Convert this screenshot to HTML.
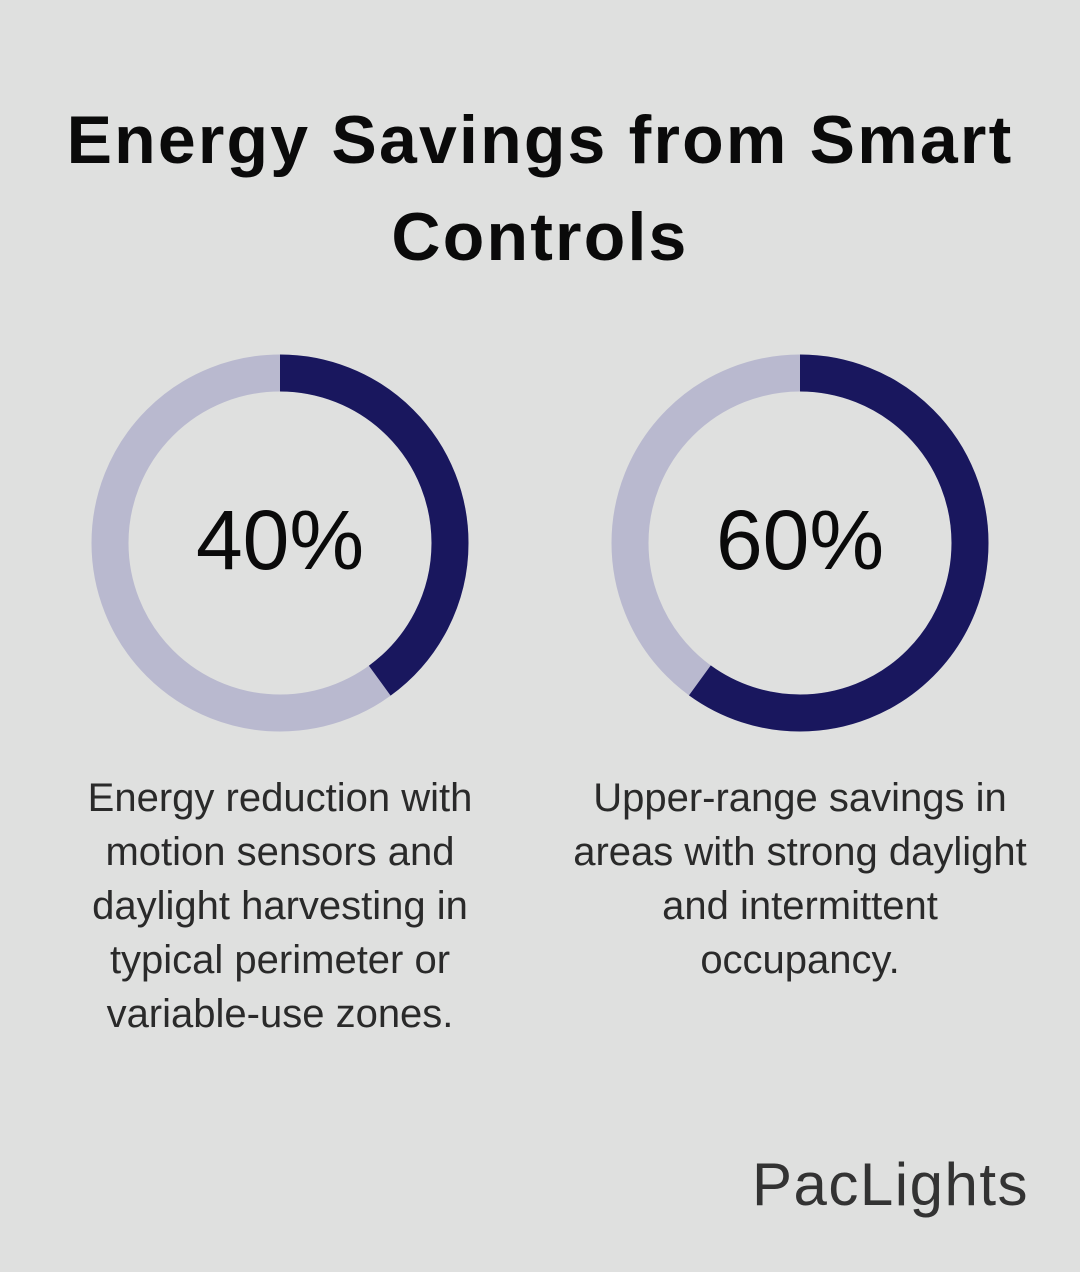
<!DOCTYPE html>
<html><head><meta charset="utf-8"><style>
body{margin:0;width:1080px;height:1272px;background:#dfe0df;font-family:"Liberation Sans",sans-serif;position:relative;overflow:hidden}
.t{position:absolute;left:0;width:1080px;text-align:center;font-weight:bold;font-size:68px;color:#0a0a0a;line-height:97px;top:92px;letter-spacing:2.2px}
.d{position:absolute;width:560px;text-align:center;font-size:40px;line-height:54px;color:#2a2a2a;top:771px;white-space:nowrap}
.n{position:absolute;width:376px;text-align:center;font-size:84px;color:#0a0a0a;top:492px}
.logo{position:absolute;left:752px;top:1150px;font-size:60px;color:#333;letter-spacing:1.5px}
</style></head><body>
<div class="t">Energy Savings from Smart<br>Controls</div>
<svg width="1080" height="1272" style="position:absolute;left:0;top:0">
<circle cx="280" cy="543" r="170" fill="none" stroke="#b9b9cf" stroke-width="37"/>
<circle cx="280" cy="543" r="170" fill="none" stroke="#19175e" stroke-width="37" stroke-dasharray="427.3 2000" transform="rotate(-90 280 543)"/>
<circle cx="800" cy="543" r="170" fill="none" stroke="#b9b9cf" stroke-width="37"/>
<circle cx="800" cy="543" r="170" fill="none" stroke="#19175e" stroke-width="37" stroke-dasharray="640.9 2000" transform="rotate(-90 800 543)"/>
</svg>
<div class="n" style="left:92px">40%</div>
<div class="n" style="left:612px">60%</div>
<div class="d" style="left:0px">Energy reduction with<br>motion sensors and<br>daylight harvesting in<br>typical perimeter or<br>variable-use zones.</div>
<div class="d" style="left:520px">Upper-range savings in<br>areas with strong daylight<br>and intermittent<br>occupancy.</div>
<div class="logo">PacLights</div>
</body></html>
